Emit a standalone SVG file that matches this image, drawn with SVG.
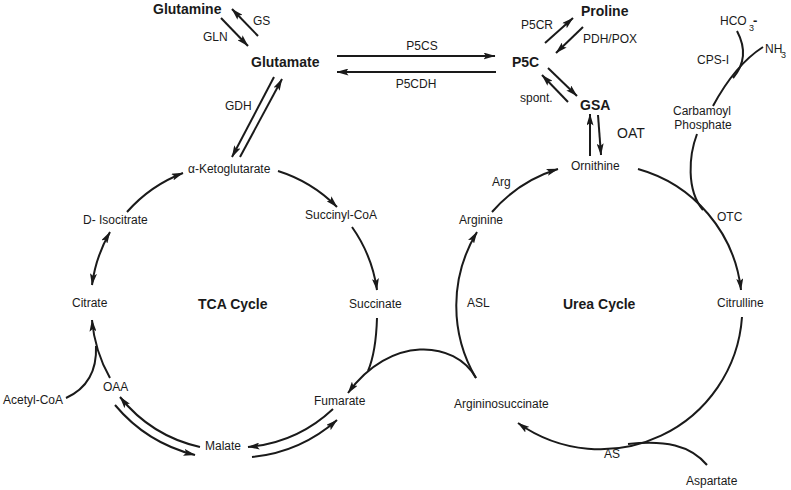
<svg xmlns="http://www.w3.org/2000/svg" width="791" height="490" viewBox="0 0 791 490">
<style>
text{font-family:"Liberation Sans",Arial,Helvetica,sans-serif;font-size:12px;fill:#1a1a1a}
.b{font-weight:bold;font-size:14px}
.c path,.c line{fill:none;stroke:#1a1a1a;stroke-width:2}
.m{marker-end:url(#a)}
.mm{marker-start:url(#a);marker-end:url(#a)}
</style>
<defs>
<marker id="a" viewBox="0 0 12 7" refX="11.5" refY="3.5" markerWidth="12" markerHeight="7" orient="auto-start-reverse" markerUnits="userSpaceOnUse">
<path d="M0,0 L12,3.5 L0,7 L2.5,3.5 Z" fill="#1a1a1a"/>
</marker>
</defs>
<rect width="791" height="490" fill="#fff"/>
<g class="c" id="connectors">
<line class="m" x1="258" y1="36" x2="232" y2="9"/>
<line class="m" x1="221" y1="18" x2="248" y2="46"/>
<line class="m" x1="274" y1="77" x2="232" y2="157"/>
<line class="m" x1="240" y1="157" x2="282" y2="79"/>
<line class="m" x1="337" y1="56" x2="495" y2="56"/>
<line class="m" x1="496" y1="72" x2="337" y2="72"/>
<line class="m" x1="545" y1="43" x2="573" y2="18"/>
<line class="m" x1="583" y1="27" x2="556" y2="53"/>
<line class="m" x1="548" y1="68" x2="577" y2="96"/>
<line class="m" x1="568" y1="102" x2="542" y2="75"/>
<line class="m" x1="590" y1="156" x2="590" y2="114"/>
<line class="m" x1="598" y1="115" x2="601" y2="155"/>
<path d="M763,47 Q735,65 713,106"/>
<path d="M737,31 C746,48 745,64 733,78"/>
<path d="M697,134 C689,155 686,190 703,210"/>
<path class="m" d="M638,169 A142,142 0 0 1 741,290"/>
<path class="m" d="M742,317 A142,142 0 0 1 518,423"/>
<path d="M707,465 C690,445 665,440 628,444"/>
<path class="m" d="M476,378 A142,142 0 0 1 477,232"/>
<path class="m" d="M492,212 A142,142 0 0 1 558,169"/>
<path class="m" d="M476,378 C455,340 390,335 348,393"/>
<path d="M377,318 Q376,352 368,371"/>
<path class="m" d="M127,212 A143,143 0 0 1 183,173"/>
<path class="mm" d="M92,285 A143,143 0 0 1 110,232"/>
<path class="m" d="M278,171 A144,144 0 0 1 337,207"/>
<path class="m" d="M352,227 A144,144 0 0 1 377,290"/>
<path class="m" d="M333,409 A142,142 0 0 1 248,447"/>
<path class="m" d="M252,457 A151,151 0 0 0 337,420"/>
<path class="m" d="M200,447 A143,143 0 0 1 120,397"/>
<path class="m" d="M115,405 A152,152 0 0 0 195,455"/>
<path class="m" d="M110,378 A142,142 0 0 1 92,320"/>
<path d="M66,398 C88,388 97,370 96,346"/>
</g>
<g id="labels">
<text x="253" y="25">GS</text>
<text x="203" y="41">GLN</text>
<text x="225" y="110">GDH</text>
<text x="422" y="50" text-anchor="middle">P5CS</text>
<text x="416" y="88" text-anchor="middle">P5CDH</text>
<text x="521" y="29">P5CR</text>
<text x="583" y="43">PDH/POX</text>
<text x="520" y="102">spont.</text>
<text x="617" y="138" style="font-size:14px">OAT</text>
<text x="697" y="64">CPS-I</text>
<text x="717" y="221">OTC</text>
<text x="492" y="186">Arg</text>
<text x="467" y="307">ASL</text>
<text x="604" y="458">AS</text>
</g>
<g id="glutamine"><text class="b" x="153" y="14">Glutamine</text></g>
<g id="glutamate"><text class="b" x="251" y="67">Glutamate</text></g>
<g id="p5c"><text class="b" x="512" y="67">P5C</text></g>
<g id="proline"><text class="b" x="581" y="16">Proline</text></g>
<g id="gsa"><text class="b" x="580" y="110">GSA</text></g>
<g id="ornithine"><text x="571" y="170">Ornithine</text></g>
<g id="hco3"><text x="720" y="25">HCO<tspan x="749" y="31" style="font-size:9px">3</tspan><tspan x="753" y="25" style="font-weight:bold;font-size:13px">-</tspan></text></g>
<g id="nh3"><text x="765" y="53">NH<tspan x="781" y="58" style="font-size:9px">3</tspan></text></g>
<g id="carbamoyl"><text x="702" y="115" text-anchor="middle">Carbamoyl</text><text x="703" y="129" text-anchor="middle">Phosphate</text></g>
<g id="citrulline"><text x="717" y="307">Citrulline</text></g>
<g id="urea"><text class="b" x="563" y="309">Urea Cycle</text></g>
<g id="arginine"><text x="459" y="224">Arginine</text></g>
<g id="argininosuccinate"><text x="454" y="408">Argininosuccinate</text></g>
<g id="aspartate"><text x="686" y="485">Aspartate</text></g>
<g id="akg"><text x="188" y="173">α-Ketoglutarate</text></g>
<g id="succinylcoa"><text x="305" y="219">Succinyl-CoA</text></g>
<g id="succinate"><text x="349" y="308">Succinate</text></g>
<g id="tca"><text class="b" x="198" y="309">TCA Cycle</text></g>
<g id="citrate"><text x="72" y="307">Citrate</text></g>
<g id="isocitrate"><text x="83" y="224">D- Isocitrate</text></g>
<g id="acetylcoa"><text x="3" y="404">Acetyl-CoA</text></g>
<g id="oaa"><text x="103" y="391">OAA</text></g>
<g id="malate"><text x="205" y="450">Malate</text></g>
<g id="fumarate"><text x="314" y="405">Fumarate</text></g>
</svg>
